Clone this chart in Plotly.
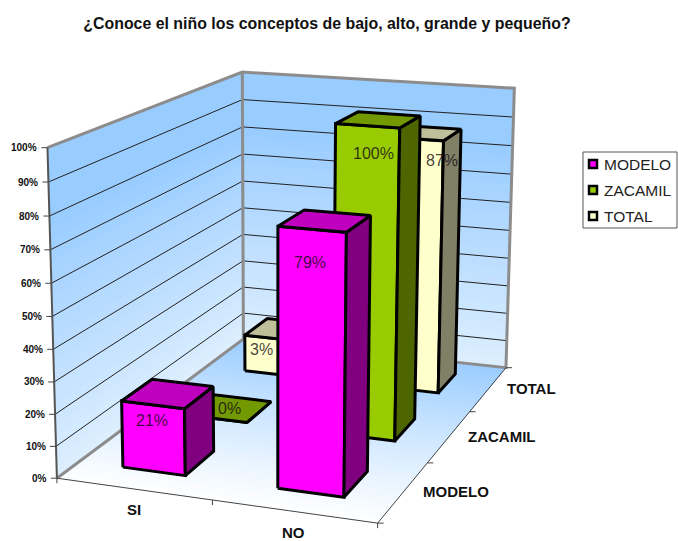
import numpy as np
import plotly.graph_objects as go

TITLE = "¿Conoce el niño los conceptos de bajo, alto, grande y pequeño?"
CATEGORIES = ["SI", "NO"]
SERIES = ["MODELO", "ZACAMIL", "TOTAL"]
MODELO = [21, 79]
ZACAMIL = [0, 100]
TOTAL = [13, 87]
# the label of the small TOTAL bar reads "3%" in the picture: its first digit is lost behind the wall
MODELO_LABELS = ["21%", "79%"]
ZACAMIL_LABELS = ["0%", "100%"]
TOTAL_LABELS = ["3%", "87%"]
VALUE_TICKS = [0, 10, 20, 30, 40, 50, 60, 70, 80, 90, 100]

W, H = 678, 541
FONT = "Liberation Sans, Arial, sans-serif"
FRONT = ["#FF00FF", "#99CC00", "#FFFFCC"]
TOP = ["#BF00BF", "#739900", "#BFBF99"]
SIDE = ["#800080", "#4D6600", "#808066"]

# camera calibration: plot-box corners (category, series, value) -> page pixels
BOX = [(0, 0, 0), (2, 0, 0), (2, 3, 0), (0, 3, 0), (0, 0, 100), (0, 3, 100), (2, 3, 100)]
PIX = [(57, 478), (378, 523), (506, 368), (243, 339), (47, 148), (243, 72), (514, 88)]
A, b = [], []
for (x, y, z), (u, v) in zip(BOX, PIX):
    A.append([x, y, z, 1, 0, 0, 0, 0, -u * x, -u * y, -u * z])
    b.append(u)
    A.append([0, 0, 0, 0, x, y, z, 1, -v * x, -v * y, -v * z])
    b.append(v)
P = np.append(np.linalg.lstsq(np.array(A, float), np.array(b, float), rcond=None)[0], 1).reshape(3, 4)


def proj(x, y, z):
    q = P @ np.array([x, y, z, 1.0])
    return q[0] / q[2], q[1] / q[2]


def poly(points, fill=None, line="black", width=3):
    pts = [proj(*p) for p in points]
    return go.Scatter(
        x=[p[0] for p in pts], y=[p[1] for p in pts],
        mode="lines", line=dict(color=line, width=width),
        fill="toself" if fill else None, fillcolor=fill,
        hoverinfo="skip", showlegend=False,
    )


def mix(c1, c2, t):
    return "rgb(%d,%d,%d)" % tuple(round(a + (b - a) * t) for a, b in zip(c1, c2))


BLUE, PALE, WHITE = (153, 204, 255), (222, 239, 255), (255, 255, 255)
traces = []
N = 30
# walls, banded along their height
for k in range(N):
    z0, z1 = 100 * k / N, 100 * (k + 1) / N
    c = mix(PALE, BLUE, min(1, (k + .5) / N * 1.25))
    traces.append(poly([(0, 0, z0), (0, 3, z0), (0, 3, z1), (0, 0, z1), (0, 0, z0)], c, c, 1))
    traces.append(poly([(0, 3, z0), (2, 3, z0), (2, 3, z1), (0, 3, z1), (0, 3, z0)], c, c, 1))
# floor, banded along its depth
for k in range(N):
    y0, y1 = 3 * k / N, 3 * (k + 1) / N
    c = mix(WHITE, BLUE, (k + .5) / N)
    traces.append(poly([(0, y0, 0), (2, y0, 0), (2, y1, 0), (0, y1, 0), (0, y0, 0)], c, c, 1))
# gridlines
for t in VALUE_TICKS[1:-1]:
    traces.append(poly([(0, 0, t), (0, 3, t), (2, 3, t)], None, "#222222", 1))
# wall and floor outlines
GREY = "#8C8C8C"
traces.append(poly([(0, 0, 100), (0, 3, 100), (2, 3, 100), (2, 3, 0), (0, 3, 0), (0, 0, 0)], None, GREY, 3))
traces.append(poly([(0, 3, 0), (0, 3, 100)], None, GREY, 3))
traces.append(poly([(0, 0, 0), (0, 0, 100)], None, "#555555", 2))
traces.append(poly([(0, 0, 0), (2, 0, 0), (2, 3, 0)], None, "#444444", 1))

# bars, painted from back to front
BAR_X = (0.29, 0.70)
BAR_Y = (0.30, 0.74)
VALUES = [MODELO, ZACAMIL, TOTAL]
LABELS = [MODELO_LABELS, ZACAMIL_LABELS, TOTAL_LABELS]
for s in reversed(range(len(SERIES))):
    for c in range(len(CATEGORIES)):
        v = VALUES[s][c]
        x0, x1 = c + BAR_X[0], c + BAR_X[1]
        y0, y1 = s + BAR_Y[0], s + BAR_Y[1]
        traces.append(poly([(x0, y0, 0), (x1, y0, 0), (x1, y0, v), (x0, y0, v), (x0, y0, 0)], FRONT[s]))
        traces.append(poly([(x1, y0, 0), (x1, y1, 0), (x1, y1, v), (x1, y0, v), (x1, y0, 0)], SIDE[s]))
        traces.append(poly([(x0, y0, v), (x1, y0, v), (x1, y1, v), (x0, y1, v), (x0, y0, v)], TOP[s]))

annotations = []


def note(x, y, text, size, bold=False, color="#111111", anchor="center"):
    annotations.append(dict(
        x=x, y=y, xref="x", yref="y", text=f"<b>{text}</b>" if bold else text, showarrow=False,
        font=dict(family=FONT, size=size, color=color), xanchor=anchor, yanchor="middle",
    ))


# value axis ticks and labels
tick_x, tick_y = [], []
for t in VALUE_TICKS:
    px, py = proj(0, 0, t)
    tick_x += [px - 6, px, None]
    tick_y += [py, py, None]
    note(px - 8, py, f"{t}%", 10, True, anchor="right")
# category ticks and labels
for i in range(len(CATEGORIES) + 1):
    px, py = proj(i, 0, 0)
    tick_x += [px, px, None]
    tick_y += [py, py + 5, None]
for i, name in enumerate(CATEGORIES):
    px, py = proj(i + .5, 0, 0)
    note(px, py + 21, name, 15, True)
# series ticks and labels
for i in range(len(SERIES) + 1):
    px, py = proj(2, i, 0)
    tick_x += [px, px + 6, None]
    tick_y += [py, py, None]
for i, name in enumerate(SERIES):
    px, py = proj(2, i + .5, 0)
    note(px + 17, py, name, 15, True, anchor="left")
traces.append(go.Scatter(x=tick_x, y=tick_y, mode="lines", line=dict(color="#444444", width=1),
                         hoverinfo="skip", showlegend=False))

# data labels
LABEL_SHIFT = {(0, 0): (-1, 16), (0, 1): (-2, 33), (1, 0): (12, -10), (1, 1): (6, 28), (2, 0): (-11, 11), (2, 1): (28, 22)}
for s in range(len(SERIES)):
    for c in range(len(CATEGORIES)):
        px, py = proj(c + sum(BAR_X) / 2, s + BAR_Y[0], VALUES[s][c])
        dx, dy = LABEL_SHIFT[(s, c)]
        note(px + dx, py + dy, LABELS[s][c], 16, color="rgba(20,10,20,0.8)")

# legend
LEG_Y = [164, 190, 216]
shapes = [dict(type="rect", xref="x", yref="y", x0=583, x1=677, y0=152, y1=228,
               line=dict(color="#555555", width=1), fillcolor="white", layer="below")]
for s, name in enumerate(SERIES):
    traces.append(go.Scatter(
        x=[593], y=[LEG_Y[s]], mode="markers", name=name, showlegend=False, hoverinfo="skip",
        marker=dict(symbol="square", size=8, color=FRONT[s], line=dict(color="black", width=2.5)),
    ))
    note(602, LEG_Y[s], name, 15.5, color="#222222", anchor="left")

fig = go.Figure(traces)
fig.update_layout(
    width=W, height=H, margin=dict(l=0, r=0, t=0, b=0), autosize=False,
    paper_bgcolor="white", plot_bgcolor="white", showlegend=False,
    xaxis=dict(range=[0, W], visible=False, fixedrange=True),
    yaxis=dict(range=[H, 0], visible=False, fixedrange=True),
    title=dict(text=f"<b>{TITLE}</b>", x=327 / W, xanchor="center", y=1 - 23 / H, yanchor="middle",
               font=dict(family=FONT, size=15.9, color="#111111")),
    annotations=annotations, shapes=shapes,
)
fig.write_html("out.html", config=dict(displayModeBar=False),
               post_script="document.body.style.margin='0';document.documentElement.style.overflow='hidden';")
